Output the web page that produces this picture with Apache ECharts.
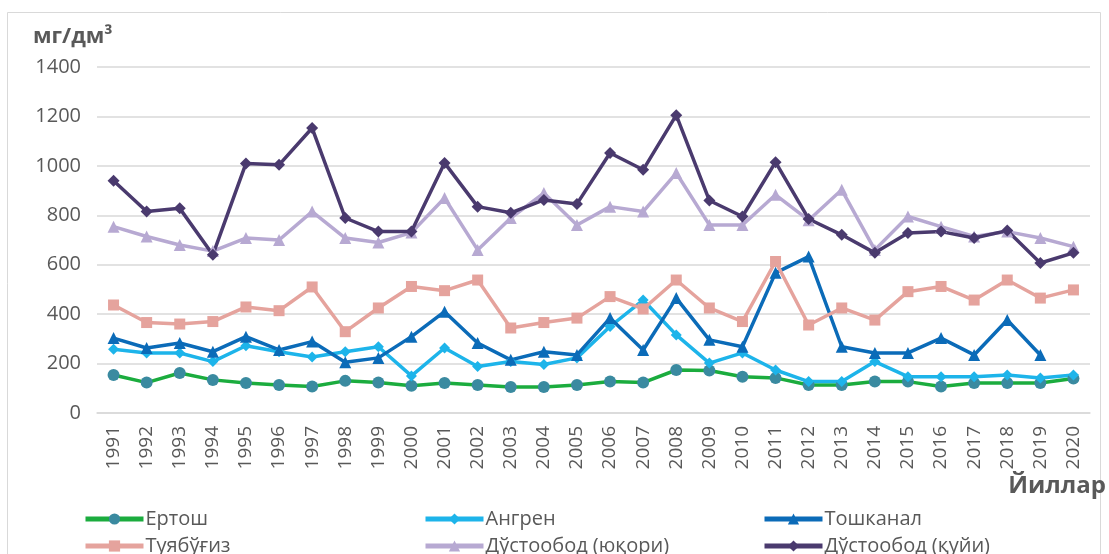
<!DOCTYPE html>
<html>
<head>
<meta charset="utf-8">
<script src="https://cdn.jsdelivr.net/npm/echarts@6/dist/echarts.min.js"></script>
<style>
html,body{margin:0;padding:0;background:#fff;}
#chart{width:1109px;height:554px;}
</style>
</head>
<body>
<div id="chart"></div>
<script>
const years = ['1991','1992','1993','1994','1995','1996','1997','1998','1999','2000','2001','2002','2003','2004','2005','2006','2007','2008','2009','2010','2011','2012','2013','2014','2015','2016','2017','2018','2019','2020'];
const yTicks = [0, 200, 400, 600, 800, 1000, 1200, 1400];

const ertosh = [154,123,162,134,121,113,107,130,123,110,121,113,105,105,113,127,123,174,172,147,142,113,113,127,127,107,121,121,121,140];
const angren = [258,243,243,208,272,248,227,248,268,150,263,188,208,196,223,350,457,316,202,243,174,127,127,208,147,147,147,154,142,154];
const toshkanal = [303,263,283,248,309,255,289,205,223,309,410,283,215,248,235,384,255,465,296,268,567,633,268,243,243,303,235,376,235,null];
const tuyabugiz = [437,366,360,370,429,414,510,329,425,512,495,538,344,366,384,471,421,538,425,370,613,356,425,376,491,512,457,538,465,498];
const dustYuqori = [754,714,680,655,708,700,815,708,690,730,870,660,789,890,761,835,815,971,761,761,883,780,903,660,795,754,714,734,708,673];
const dustQuyi = [940,815,828,640,1010,1004,1153,789,734,734,1012,835,810,862,846,1052,984,1205,860,795,1015,785,721,648,728,734,708,738,607,648];

const seriesNames = ['Ертош','Ангрен','Тошканал','Туябўғиз','Дўстообод (юқори)','Дўстообод (қуйи)'];

const chart = echarts.init(document.getElementById('chart'));
const font = 'Open Sans';
const txt = '#595959';

function mk(name, data, symbol, size, lineColor, markerColor) {
  return {
    name: name, type: 'line', data: data, symbol: symbol, symbolSize: size,
    connectNulls: false,
    lineStyle: {color: lineColor, width: 3.5},
    itemStyle: {color: markerColor},
    emphasis: {disabled: true}
  };
}

const legendPos = [
  {left: 78, top: 504},
  {left: 418, top: 504},
  {left: 757, top: 504},
  {left: 78, top: 531},
  {left: 418, top: 531},
  {left: 757, top: 531}
];

chart.setOption({
  animation: false,
  backgroundColor: '#fff',
  grid: {left: 97, right: 19, top: 67, bottom: 141, containLabel: false},
  xAxis: {
    type: 'category', data: years, boundaryGap: true,
    axisLine: {show: true, lineStyle: {color: '#d9d9d9', width: 1.5}},
    axisTick: {show: false},
    axisLabel: {rotate: 90, color: txt, fontFamily: font, fontSize: 19, margin: 13, interval: 0}
  },
  yAxis: {
    type: 'value', min: 0, max: 1400, interval: 200,
    axisLine: {show: false}, axisTick: {show: false},
    splitLine: {lineStyle: {color: '#d9d9d9', width: 1.5}},
    axisLabel: {color: txt, fontFamily: font, fontSize: 20, margin: 16,
      formatter: function(v){ return yTicks.indexOf(v) >= 0 ? String(v) : ''; }}
  },
  legend: legendPos.map((p, i) => ({
    data: [seriesNames[i]], left: p.left, top: p.top,
    itemWidth: 58, itemHeight: 14, itemGap: 4,
    lineStyle: {width: 5},
    textStyle: {color: txt, fontFamily: font, fontSize: 20, padding: [0,0,0,-3]},
    selectedMode: false
  })),
  graphic: [
    {type: 'rect', shape: {x: 7.5, y: 12.5, width: 1093, height: 560}, style: {fill: 'none', stroke: '#d9d9d9', lineWidth: 1}, silent: true},
    {type: 'text', left: 33, top: 26, style: {text: 'мг/дм³', fill: txt, font: 'bold 22px "Open Sans"'}},
    {type: 'text', right: 3, top: 474, style: {text: 'Йиллар', fill: txt, font: 'bold 24px "Open Sans"'}}
  ],
  series: [
    mk(seriesNames[0], ertosh, 'circle', 12, '#1bac3e', '#3a8aa0'),
    mk(seriesNames[1], angren, 'diamond', 11, '#1db4ea', '#1db4ea'),
    mk(seriesNames[2], toshkanal, 'triangle', 12, '#0b6bb8', '#0b6bb8'),
    mk(seriesNames[3], tuyabugiz, 'rect', 11, '#e5a39d', '#e5a39d'),
    mk(seriesNames[4], dustYuqori, 'triangle', 12, '#b7a9d2', '#b7a9d2'),
    mk(seriesNames[5], dustQuyi, 'diamond', 12, '#4a3a6e', '#4a3a6e')
  ]
});
</script>
</body>
</html>
